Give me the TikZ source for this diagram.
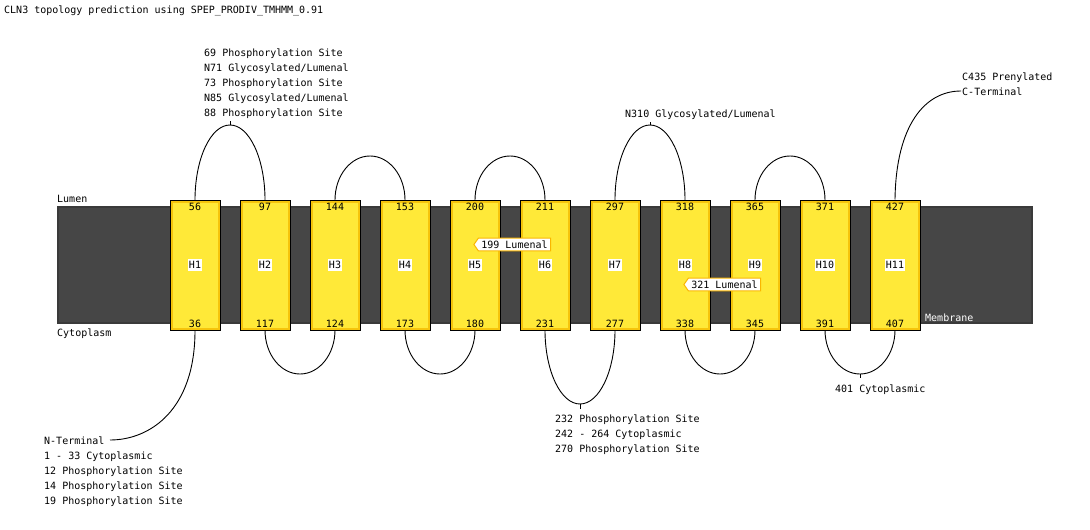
\documentclass[tikz,border=0pt]{standalone}
\usepackage{fontspec}
\setmonofont{DejaVu Sans Mono}
\usetikzlibrary{positioning,shapes.symbols}
\definecolor{memgray}{RGB}{70,70,70}
\definecolor{memedge}{RGB}{58,58,58}
\definecolor{helixfill}{RGB}{255,233,56}
\definecolor{helixedge}{RGB}{246,196,12}
\definecolor{tagedge}{RGB}{250,182,0}
\begin{document}
\begin{tikzpicture}[x=1pt, y=-1pt,
		mono/.style={font=\ttfamily\fontsize{10}{15}\selectfont},
		txt/.style={mono, inner sep=0pt, align=left, anchor=north west},
		membrane/.style={draw=memedge, line width=2pt, fill=memgray, minimum width=974pt, minimum height=116pt, inner sep=0pt},
		helix/.style={draw, line width=1pt, fill=helixedge, minimum width=50pt, minimum height=130pt, inner sep=0pt,
			path picture={\fill[helixfill] ([shift={(2.5pt,2.5pt)}]path picture bounding box.south west) rectangle ([shift={(-2.5pt,-2.5pt)}]path picture bounding box.north east);}},
		hname/.style={mono, fill=white, inner xsep=1pt, inner ysep=2pt},
		num/.style={mono, inner sep=0pt},
		tag/.style={mono, signal, signal to=west, signal pointer angle=110, draw=tagedge, line width=1pt, fill=white, inner xsep=3pt, inner ysep=2.5pt},
		loop/.style={draw, line width=0.9pt}
	]
	\useasboundingbox (0,0) rectangle (1090,530);

	\node[txt] (title) at (4,5.4) {CLN3 topology prediction using SPEP\_PRODIV\_TMHMM\_0.91};

	\node[membrane] (mem) at (545,265) {};
	\node[txt] (lumen) at (57,195.4) {Lumen};
	\node[txt] (cyto) at (57,328.4) {Cytoplasm};
	\node[txt, text=white] (memname) at (925,313.4) {Membrane};

	% loops between the helices
	\foreach \a/\b/\r in {1/2/75, 3/4/44, 5/6/44, 7/8/75, 9/10/44}
		\draw[loop] (195+70*\a-70,200) arc[start angle=180, end angle=90, x radius=35pt, y radius=\r pt] coordinate (top\a)
			arc[start angle=90, end angle=0, x radius=35pt, y radius=\r pt];
	\foreach \a/\b/\r in {2/3/44, 4/5/44, 6/7/74, 8/9/44, 10/11/44}
		\draw[loop] (195+70*\a-70,330) arc[start angle=180, end angle=270, x radius=35pt, y radius=\r pt] coordinate (bot\a)
			arc[start angle=270, end angle=360, x radius=35pt, y radius=\r pt];

	\foreach \i/\t/\b in {1/56/36, 2/97/117, 3/144/124, 4/153/173, 5/200/180, 6/211/231, 7/297/277, 8/318/338, 9/365/345, 10/371/391, 11/427/407}{
		\node[helix] (h\i) at ({195+70*(\i-1)},265) {};
		\node[hname] (n\i) at (h\i) {H\i};
		\node[num, below=3.5pt] (t\i) at (h\i.north) {\t};
		\node[num, above=3pt] (b\i) at (h\i.south) {\b};
	}

	\node[tag] (tag199) at (514.5,244.5) {199 Lumenal};
	\node[tag] (tag321) at (724.5,284.5) {321 Lumenal};

	% site labels
	\node[txt] (site69) at (204,48.4) {69 Phosphorylation Site\\N71 Glycosylated/Lumenal\\73 Phosphorylation Site\\N85 Glycosylated/Lumenal\\88 Phosphorylation Site};
	\node[txt] (site310) at (625,109.4) {N310 Glycosylated/Lumenal};
	\node[txt] (site232) at (555,414.4) {232 Phosphorylation Site\\242 - 264 Cytoplasmic\\270 Phosphorylation Site};
	\node[txt] (site401) at (835,384.4) {401 Cytoplasmic};
	\node[txt] (nterm) at (44,436.4) {N-Terminal\\1 - 33 Cytoplasmic\\12 Phosphorylation Site\\14 Phosphorylation Site\\19 Phosphorylation Site};
	\node[txt] (cterm) at (962,72.4) {C435 Prenylated\\C-Terminal};

	\draw[loop] (top1) -- ++(0,-4);
	\draw[loop] (top7) -- ++(0,-3);
	\draw[loop] (bot6) -- ++(0,5);
	\draw[loop] (bot10) -- ++(0,4);

	\coordinate (nend) at (110,440);
	\coordinate (cend) at (961,91);
	\draw[loop] (h1.south) .. controls (195,410) and (150,440) .. (nend);
	\draw[loop] (h11.north) .. controls (896,125) and (925,91) .. (cend);
\end{tikzpicture}
\end{document}
